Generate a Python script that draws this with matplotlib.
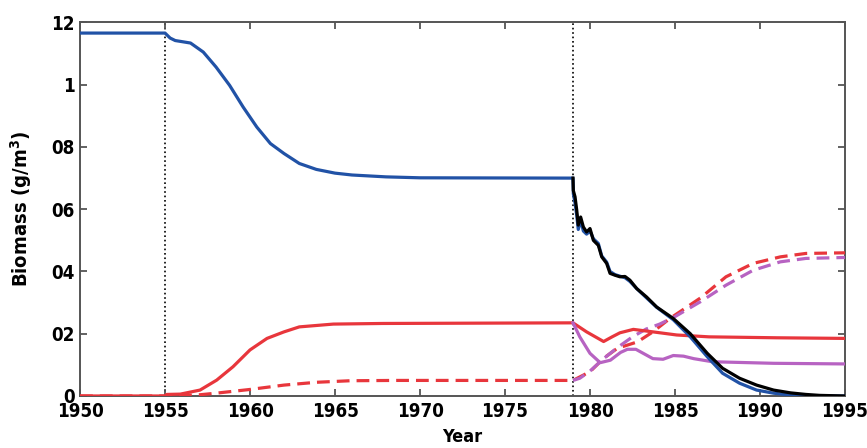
import matplotlib
matplotlib.use("Agg")
import matplotlib.pyplot as plt
import numpy as np

# Data
# ---------------------------

blue_yr = [1950, 1955, 1955.3, 1955.6, 1956.5, 1957.25, 1958, 1958.8, 1959.6, 1960.4,
           1961.2, 1962, 1962.9, 1963.9, 1965, 1966, 1968, 1970, 1979,
           1979.02, 1979.12, 1979.22, 1979.31, 1979.45, 1979.61, 1979.8, 1980.0, 1980.2,
           1980.49, 1980.69, 1980.98, 1981.18, 1981.47, 1981.76, 1982.06, 1982.35, 1982.75,
           1983.33, 1983.92, 1984.9, 1985.9, 1986.9, 1987.8, 1988.8, 1989.8, 1990.8,
           1991.8, 1992.7, 1993.5, 1995]
blue_val = [1.166, 1.166, 1.150, 1.142, 1.134, 1.105, 1.057, 0.998, 0.928, 0.864,
            0.811, 0.779, 0.747, 0.728, 0.716, 0.710, 0.704, 0.701, 0.700,
            0.650, 0.620, 0.580, 0.535, 0.565, 0.530, 0.520, 0.530, 0.505,
            0.490, 0.450, 0.430, 0.400, 0.390, 0.385, 0.380, 0.368, 0.345,
            0.315, 0.285, 0.245, 0.190, 0.126, 0.073, 0.041, 0.019, 0.009,
            0.003, 0.001, 0.0, 0.0]

black_yr = [1979, 1979.02, 1979.12, 1979.22, 1979.31, 1979.45, 1979.61, 1979.8, 1980.0,
            1980.2, 1980.49, 1980.69, 1980.98, 1981.18, 1981.47, 1981.76, 1982.06, 1982.35,
            1982.75, 1983.33, 1983.92, 1984.9, 1985.9, 1986.9, 1987.8, 1988.8, 1989.8,
            1990.8, 1991.8, 1992.7, 1993.5, 1995]
black_val = [0.700, 0.660, 0.640, 0.597, 0.549, 0.575, 0.543, 0.527, 0.538,
             0.500, 0.484, 0.447, 0.426, 0.394, 0.388, 0.383, 0.384, 0.372,
             0.345, 0.318, 0.286, 0.249, 0.200, 0.137, 0.089, 0.057, 0.035,
             0.019, 0.010, 0.005, 0.002, 0.0]

red_yr = [1950, 1955, 1955.1, 1955.9, 1957.06, 1958.04, 1959, 1960, 1961, 1962, 1962.9,
          1964.9, 1967.8, 1979, 1979.8, 1980.8, 1981.3, 1981.76, 1982.55, 1983.7, 1985.1,
          1987, 1991, 1995]
red_val = [0.0, 0.0, 0.005, 0.006, 0.019, 0.051, 0.094, 0.148, 0.185, 0.206, 0.222,
           0.231, 0.233, 0.235, 0.206, 0.175, 0.190, 0.203, 0.214, 0.206, 0.196,
           0.190, 0.187, 0.185]

red_dash_yr = [1950, 1955, 1956, 1957.06, 1958, 1960, 1962, 1963.9, 1965.9, 1968.6, 1979,
               1980, 1980.8, 1981.6, 1982.8, 1983.7, 1984.7, 1986.5, 1988, 1989.6, 1991.2,
               1992.7, 1995]
red_dash_val = [0.0, 0.0, 0.002, 0.004, 0.009, 0.021, 0.035, 0.044, 0.049, 0.050, 0.050,
                0.078, 0.121, 0.153, 0.174, 0.206, 0.249, 0.315, 0.383, 0.426, 0.447,
                0.458, 0.460]

mag_yr = [1979, 1979.4, 1980, 1980.6, 1981.2, 1981.8, 1982.2, 1982.7, 1983.2, 1983.7,
          1984.3, 1984.9, 1985.5, 1986.1, 1987.2, 1990.8, 1995]
mag_val = [0.235, 0.190, 0.137, 0.107, 0.115, 0.140, 0.150, 0.150, 0.135, 0.120,
           0.118, 0.130, 0.128, 0.120, 0.110, 0.105, 0.103]

mag_dash_yr = [1979, 1979.4, 1980, 1980.8, 1981.6, 1982.5, 1983.3, 1984.1, 1985, 1986.5,
               1988, 1989.6, 1991.2, 1992.7, 1995]
mag_dash_val = [0.050, 0.057, 0.080, 0.120, 0.155, 0.190, 0.215, 0.231, 0.255, 0.303,
                0.356, 0.404, 0.431, 0.442, 0.445]

event_yr = [1955, 1979]

xticks = np.arange(1950, 1996, 5)
yticks = [0, 0.2, 0.4, 0.6, 0.8, 1.0, 1.2]
ytick_labels = ['0', '02', '04', '06', '08', '1', '12']

# --------------------------------------------------------------------------------------------------

plt.rcParams['font.family'] = ['DejaVu Sans']
plt.rcParams['font.stretch'] = 'condensed'
plt.rcParams['font.weight'] = 'bold'

BLUE = '#2152a6'
RED = '#e8363c'
MAG = '#b763c2'
lw = 2.3

fig = plt.figure(figsize=(8.67, 4.48), dpi=100)
ax = fig.add_axes([0.0923, 0.1161, 0.8823, 0.8337])

for x in event_yr:
  ax.axvline(x, color='black', linestyle=':', linewidth=1.2, zorder=1)

ax.plot(red_dash_yr, red_dash_val, color=RED, linewidth=lw, dashes=(4, 2.2), zorder=3)
ax.plot(mag_dash_yr, mag_dash_val, color=MAG, linewidth=lw, dashes=(4, 2.2), zorder=3)
ax.plot(red_yr, red_val, color=RED, linewidth=lw, zorder=3)
ax.plot(mag_yr, mag_val, color=MAG, linewidth=lw, zorder=3)
ax.plot(blue_yr, blue_val, color=BLUE, linewidth=lw, zorder=4)
ax.plot(black_yr, black_val, color='black', linewidth=lw, zorder=5)

ax.set_xlim(1950, 1995)
ax.set_ylim(0, 1.2)
ax.set_xticks(xticks)
ax.set_yticks(yticks)
ax.set_yticklabels(ytick_labels)
ax.tick_params(direction='in', top=True, right=True, length=5, width=1.3,
               color='#555555', labelsize=13.5)
ax.tick_params(axis='y', pad=4)
ax.tick_params(axis='x', pad=4)
for s in ax.spines.values():
  s.set_color('#555555')
  s.set_linewidth(1.4)

ax.set_xlabel('Year', fontsize=13, fontweight='bold')
ax.set_ylabel('Biomass (g/m$^{\\mathbf{3}}$)', fontsize=14.5, fontweight='bold')
ax.xaxis.set_label_coords(0.5, -0.085)
ax.yaxis.set_label_coords(-0.06, 0.5)

plt.savefig('out.png', dpi=100)
